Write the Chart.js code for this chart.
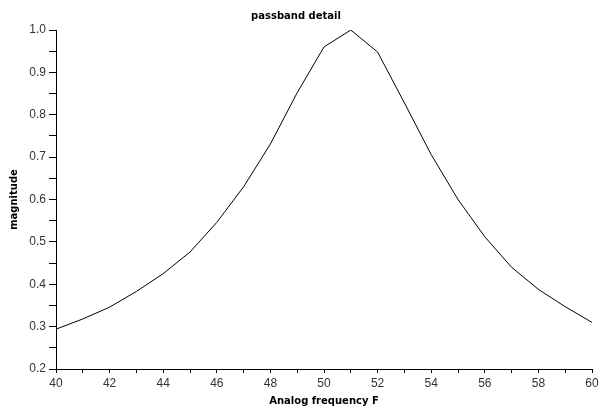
<!DOCTYPE html>
<html>
<head>
<meta charset="utf-8">
<script src="https://cdn.jsdelivr.net/npm/chart.js@4/dist/chart.umd.min.js"></script>
<style>
  html, body { margin: 0; padding: 0; background: #fff; }
  #wrap { width: 604px; height: 415px; }
</style>
</head>
<body>
<div id="wrap"><canvas id="chart"></canvas></div>
<script>
// analog frequency F (sampled at integer points)
const freq = [40, 41, 42, 43, 44, 45, 46, 47, 48, 49, 50, 51, 52, 53, 54, 55, 56, 57, 58, 59, 60];
// magnitude
const mag = [0.294, 0.318, 0.346, 0.383, 0.425, 0.476, 0.546, 0.630, 0.731, 0.852, 0.960, 1.0,
             0.948, 0.828, 0.706, 0.600, 0.512, 0.440, 0.388, 0.347, 0.310];

const xMin = 40, xMax = 60;
const yMin = 0.2, yMax = 1.0;

const points = freq.map((f, i) => ({ x: f, y: mag[i] }));

const tickFont = { family: "'Liberation Sans', Arial, sans-serif", size: 12 };
const labelFont = { family: "'DejaVu Sans', sans-serif", size: 10, weight: "bold", lineHeight: 1.2 };

new Chart(document.getElementById("chart"), {
  type: "line",
  data: {
    datasets: [{
      data: points,
      borderColor: "#000",
      borderWidth: 1,
      pointRadius: 0,
      tension: 0,
      fill: false,
    }],
  },
  options: {
    responsive: true,
    maintainAspectRatio: false,
    animation: false,
    layout: { padding: { left: 0, right: 12, top: 0, bottom: 0 } },
    plugins: {
      legend: { display: false },
      tooltip: { enabled: false },
      title: {
        display: true,
        text: "passband detail",
        color: "#000",
        font: labelFont,
        padding: { top: 10, bottom: 8 },
      },
    },
    scales: {
      x: {
        type: "linear",
        min: xMin,
        max: xMax,
        afterFit: (s) => { s.height = 46; },
        border: { display: true, color: "#000", width: 1 },
        grid: { drawOnChartArea: false, drawTicks: true, tickLength: 4, tickColor: "#000" },
        ticks: {
          stepSize: 1,
          autoSkip: false,
          maxRotation: 0,
          padding: 3,
          color: "#333",
          font: tickFont,
          callback: (v) => (v % 2 === 0 ? String(v) : ""),
        },
        title: {
          display: true,
          text: "Analog frequency F",
          color: "#000",
          font: labelFont,
          padding: { top: 0, bottom: 7.5 },
        },
      },
      y: {
        min: yMin,
        max: yMax,
        afterFit: (s) => { s.width = 56; },
        border: { display: true, color: "#000", width: 1 },
        grid: { drawOnChartArea: false, drawTicks: true, tickLength: 7, tickColor: "#000" },
        ticks: {
          stepSize: 0.05,
          autoSkip: false,
          padding: 3,
          color: "#333",
          font: tickFont,
          callback: (v) => (Math.round(v * 100) % 10 === 0 ? v.toFixed(1) : ""),
        },
        title: {
          display: true,
          text: "magnitude",
          color: "#000",
          font: labelFont,
          padding: { top: 8.5, bottom: 0 },
        },
      },
    },
  },
});
</script>
</body>
</html>
